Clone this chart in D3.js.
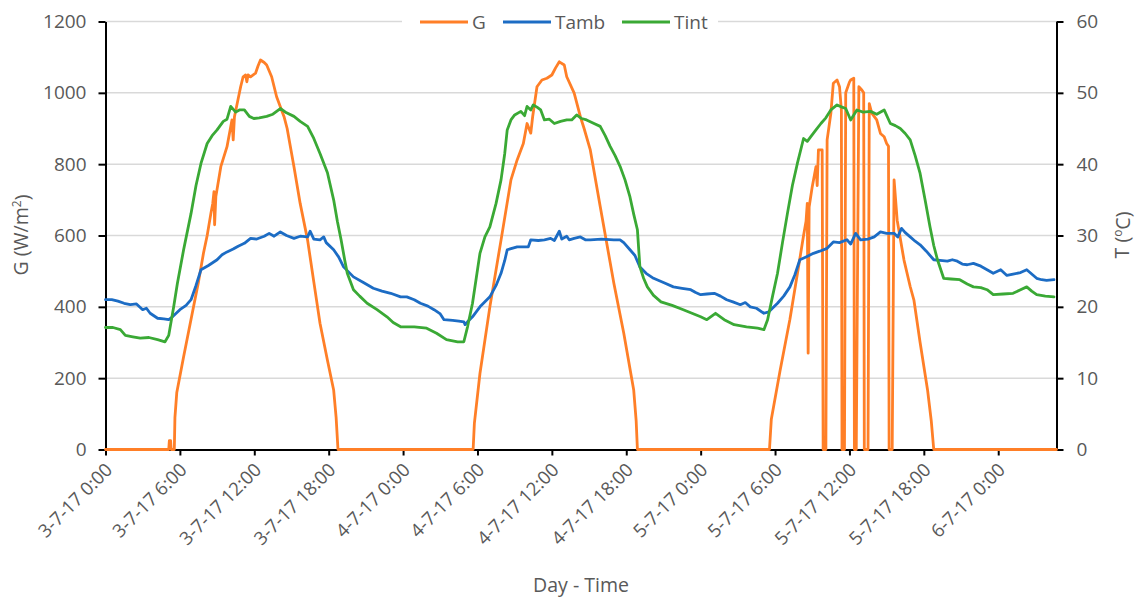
<!DOCTYPE html>
<html>
<head>
<meta charset="utf-8">
<script src="https://cdn.jsdelivr.net/npm/d3@7"></script>
<style>
  html, body { margin: 0; padding: 0; background: #fff; }
  svg { display: block; font-family: "Open Sans", "Liberation Sans", sans-serif; }
</style>
</head>
<body>
<svg id="chart" width="1137" height="601"></svg>
<script>
// Measurement start: 3 July 2017, 00:00. Time is given as hours since start.
const startDate = new Date(2017, 6, 3, 0, 0);
const endHours = 76.7;

// Global irradiance G (W/m²)
const gHours = [
  0, 5.0, 5.1, 5.15, 5.25, 5.3, 5.55, 5.6, 5.75, 6.3, 7.1, 7.5, 7.9, 8.2, 8.5, 8.65, 8.75, 8.8, 8.9,
  9.3, 9.8, 10.2, 10.3, 10.4, 10.9, 11.1, 11.3, 11.4, 11.5, 11.7, 12.1, 12.3, 12.5, 12.8, 13.0,
  13.4, 13.8, 14.4, 14.65, 15.2, 15.7, 16.3, 16.8, 17.3, 17.9, 18.4, 18.6, 18.75,
  29.65, 29.75, 30.2, 31.0, 31.9, 32.7, 33.2, 33.7, 34.0, 34.3, 34.45, 34.8, 35.2, 35.6, 36.0, 36.3,
  36.6, 37.0, 37.2, 37.8, 38.3, 38.6, 39.1, 39.9, 41.0, 41.8, 42.6, 42.8, 42.9,
  53.55, 53.7, 54.4, 55.2, 56.0, 56.3, 56.5, 56.6, 56.67, 56.75, 57.0, 57.3, 57.4, 57.5, 57.8,
  57.88, 58.1, 58.2, 58.5, 58.7, 59.0, 59.2, 59.35, 59.4, 59.6, 59.7, 60.0, 60.1, 60.35, 60.4,
  60.55, 60.76, 61.0, 61.15, 61.2, 61.5, 61.6, 61.8, 62.2, 62.5, 62.8, 63.0, 63.15, 63.2, 63.45,
  63.6, 63.85, 64.4, 64.9, 65.2, 65.7, 66.3, 66.6, 66.8, 76.7
];
const gValues = [
  0, 0, 0, 25, 25, 0, 0, 90, 160, 260, 400, 470, 550, 600, 662, 690, 723, 630, 709,
  793, 849, 924, 868, 933, 1017, 1045, 1050, 1031, 1050, 1045, 1055, 1075, 1092, 1085, 1078,
  1045, 989, 933, 900, 793, 690, 587, 470, 354, 250, 167, 90, 0,
  0, 73, 213, 400, 587, 756, 812, 858, 914, 887, 933, 1017, 1036, 1041, 1050, 1070,
  1087, 1078, 1045, 999, 933, 900, 840, 681, 466, 326, 167, 80, 0,
  0, 85, 220, 365, 535, 600, 640, 690, 270, 680, 737, 793, 740, 840, 840,
  0, 0, 868, 942, 1027, 1036, 1017, 952, 0, 0, 1000, 1030, 1036, 1041, 0,
  0, 1017, 1008, 1000, 0, 0, 970, 943, 924, 886, 877, 858, 850, 0, 0,
  756, 643, 531, 457, 419, 300, 167, 80, 0, 0
];

// Ambient temperature Tamb (°C)
const tambHours = [
  0.0, 0.5, 1.0, 1.5, 2.0, 2.5, 3.0, 3.3, 3.6, 4.2, 4.7, 5.1, 5.4, 6.0, 6.5, 6.9, 7.3, 7.7, 8.3, 9.0,
  9.4, 9.8, 10.3, 10.7, 11.2, 11.7, 12.2, 12.8, 13.2, 13.6, 14.1, 14.6, 15.2, 15.7, 16.3, 16.5, 16.8,
  17.3, 17.6, 17.8, 18.4, 18.8, 19.2, 19.6, 20.0, 20.8, 21.6, 22.3, 23.0, 23.8,
  24.3, 24.9, 25.4, 26.0, 26.5, 27.0, 27.3, 28.0, 28.5, 28.9, 29.0, 29.2, 29.6, 30.2, 30.6, 31.0,
  31.5, 31.9, 32.2, 32.4, 33.2, 34.1, 34.3, 34.9, 35.4, 35.9, 36.2, 36.6, 36.8, 37.2, 37.4, 37.8,
  38.3, 38.7, 39.1, 40.0, 41.0, 41.5, 41.8, 42.3, 42.7, 43.1, 43.6, 44.2, 45.0, 45.8, 46.5, 47.2,
  47.6, 48.0,
  48.5, 49.1, 49.6, 50.1, 50.6, 51.2, 51.6, 52.0, 52.5, 53.1, 53.5, 54.2, 54.7, 55.2, 55.6, 56.0,
  56.5, 57.1, 57.6, 58.2, 58.7, 59.2, 59.8, 60.1, 60.5, 60.9, 61.5, 62.0, 62.5, 63.0, 63.6, 63.9,
  64.2, 64.5, 64.9, 65.3, 65.7, 66.2, 66.8, 67.3, 67.9, 68.3, 68.7, 69.1, 69.5, 70.0, 70.6, 71.1,
  71.6, 72.2, 72.7, 73.2, 73.8, 74.3, 74.7, 75.1, 75.5, 75.9, 76.5
];
const tambValues = [
  21.0, 21.0, 20.8, 20.5, 20.3, 20.4, 19.6, 19.8, 19.1, 18.4, 18.3, 18.2, 18.6, 19.6, 20.2, 21.0, 23.0, 25.2, 25.8, 26.6,
  27.3, 27.7, 28.1, 28.5, 28.9, 29.6, 29.5, 29.9, 30.3, 29.9, 30.5, 30.0, 29.6, 29.9, 29.8, 30.6, 29.5,
  29.4, 29.8, 29.0, 28.0, 27.0, 25.6, 24.9, 24.2, 23.4, 22.6, 22.2, 21.9, 21.4,
  21.4, 21.0, 20.5, 20.1, 19.6, 19.0, 18.2, 18.1, 18.0, 17.9, 17.5, 17.9, 18.6, 20.0, 20.7, 21.4,
  23.0, 24.7, 26.5, 28.0, 28.4, 28.4, 29.4, 29.3, 29.4, 29.6, 29.3, 30.6, 29.5, 29.9, 29.4, 29.6,
  29.8, 29.4, 29.4, 29.5, 29.4, 29.4, 29.0, 28.0, 27.2, 25.6, 24.7, 24.0, 23.4, 22.8, 22.6, 22.4,
  22.0, 21.7,
  21.8, 21.9, 21.5, 21.0, 20.7, 20.3, 20.6, 20.0, 19.8, 19.1, 19.3, 20.5, 21.5, 22.8, 24.5, 26.6,
  27.0, 27.5, 27.8, 28.2, 29.1, 29.0, 29.4, 28.8, 30.3, 29.4, 29.5, 29.8, 30.5, 30.3, 30.3, 29.8,
  31.0, 30.4, 29.8, 29.2, 28.7, 27.8, 26.6, 26.5, 26.4, 26.6, 26.4, 26.0, 25.9, 26.1, 25.7, 25.2,
  24.7, 25.2, 24.4, 24.6, 24.8, 25.2, 24.6, 24.0, 23.8, 23.7, 23.8
];

// Internal temperature Tint (°C)
const tintHours = [
  0.0, 0.6, 1.2, 1.6, 2.2, 2.8, 3.5, 4.2, 4.8, 5.1, 5.5, 5.8, 6.3, 6.9, 7.3, 7.7, 8.2, 8.6, 9.0, 9.5,
  9.8, 10.1, 10.5, 10.8, 11.2, 11.6, 11.96, 12.4, 13.0, 13.5, 14.1, 14.6, 15.2, 15.7, 16.3, 16.8, 17.3,
  17.9, 18.4, 18.7, 19.0, 19.3, 19.5, 20.0, 20.5, 21.1, 21.9, 22.7, 23.2, 23.8,
  24.9, 25.9, 26.7, 27.5, 28.4, 28.9, 29.2, 29.6, 29.9, 30.2, 30.6, 31.0, 31.5, 31.9, 32.2, 32.4,
  32.7, 33.0, 33.5, 33.8, 34.0, 34.3, 34.5, 34.8, 35.1, 35.4, 35.8, 36.2, 36.7, 37.2, 37.6, 38.0,
  38.4, 38.8, 39.4, 39.9, 40.3, 40.7, 41.1, 41.5, 41.9, 42.3, 42.6, 42.9, 43.1, 43.4, 43.7, 44.2,
  44.8, 45.7, 46.6, 47.3, 48.0,
  48.5, 49.2, 49.9, 50.7, 51.7, 52.6, 53.1, 53.4, 53.8, 54.2, 54.6, 55.0, 55.4, 55.8, 56.3, 56.6,
  56.9, 57.3, 57.7, 58.1, 58.5, 59.0, 59.4, 59.7, 60.1, 60.6, 61.1, 61.7, 62.2, 62.8, 63.3, 63.7,
  64.1, 64.5, 64.9, 65.3, 65.7, 66.1, 66.5, 66.8, 67.1, 67.6, 68.2, 68.9, 69.5, 70.0, 70.6, 71.1,
  71.6, 72.4, 73.2, 73.8, 74.3, 74.7, 75.1, 75.8, 76.5
];
const tintValues = [
  17.1, 17.1, 16.8, 16.0, 15.8, 15.6, 15.7, 15.4, 15.1, 16.0, 20.0, 23.3, 28.0, 33.1, 37.0, 40.1, 42.9, 44.0, 44.8, 46.0,
  46.3, 48.1, 47.3, 47.6, 47.6, 46.7, 46.4, 46.5, 46.7, 47.0, 47.8, 47.2, 46.7, 46.0, 45.3, 43.6, 41.5,
  38.8, 35.0, 32.0, 29.4, 26.5, 24.7, 22.4, 21.5, 20.5, 19.6, 18.6, 17.8, 17.2,
  17.2, 17.0, 16.3, 15.4, 15.1, 15.1, 17.2, 20.5, 24.0, 27.5, 29.8, 31.2, 34.5, 37.8, 41.5, 44.8,
  46.2, 46.9, 47.4, 46.8, 48.1, 47.6, 48.3, 48.0, 47.6, 46.2, 46.3, 45.7, 46.0, 46.2, 46.2, 46.9,
  46.4, 46.2, 45.7, 45.3, 44.0, 42.5, 41.2, 39.7, 37.8, 35.4, 33.0, 30.8, 25.6, 24.0, 22.8, 21.6,
  20.7, 20.2, 19.6, 19.1, 18.6,
  18.2, 19.1, 18.2, 17.5, 17.2, 17.0, 16.8, 18.2, 21.5, 24.7, 29.0, 33.1, 37.0, 40.1, 43.6, 43.2,
  43.9, 44.8, 45.7, 46.5, 47.6, 48.3, 48.0, 47.8, 46.2, 47.6, 47.3, 47.4, 47.0, 47.6, 45.7, 45.4,
  45.0, 44.3, 43.4, 41.2, 38.7, 35.0, 31.2, 28.6, 26.6, 24.0, 23.9, 23.8, 23.2, 22.8, 22.7, 22.4,
  21.7, 21.8, 21.9, 22.4, 22.8, 22.2, 21.7, 21.5, 21.4
];

const gTicks = [0, 200, 400, 600, 800, 1000, 1200];
const tTicks = [0, 10, 20, 30, 40, 50, 60];
const seriesNames = ["G", "Tamb", "Tint"];
const seriesColors = ["#ff7f27", "#1c6cc4", "#3aa935"];

const svg = d3.select("#chart");
const plot = { left: 105.5, right: 1056.5, top: 21.5, bottom: 449.5 };
const labelColor = "#595959";

const hourToDate = h => new Date(startDate.getTime() + h * 3600 * 1000);

const x = d3.scaleTime()
  .domain([startDate, hourToDate(endHours)])
  .range([plot.left, plot.right]);
const yG = d3.scaleLinear().domain([0, 1200]).range([plot.bottom, plot.top]);
const yT = d3.scaleLinear().domain([0, 60]).range([plot.bottom, plot.top]);

// Horizontal gridlines
svg.append("g")
  .selectAll("line")
  .data(gTicks.filter(d => d > 0))
  .join("line")
  .attr("x1", plot.left).attr("x2", plot.right)
  .attr("y1", d => yG(d)).attr("y2", d => yG(d))
  .attr("stroke", "#d9d9d9").attr("stroke-width", 1.5);

// Axes
const fmt = d3.timeFormat("%-d-%-m-%y %-H:%M");
const xAxis = d3.axisBottom(x)
  .ticks(d3.timeHour.every(6))
  .tickSize(6).tickSizeOuter(0)
  .tickFormat(fmt);
const gx = svg.append("g").attr("transform", `translate(0,${plot.bottom})`).call(xAxis);
gx.select(".domain").attr("stroke", "#000").attr("stroke-width", 2);
gx.selectAll(".tick line").attr("stroke", "#000").attr("stroke-width", 2);
gx.selectAll(".tick text")
  .attr("fill", labelColor)
  .attr("font-size", 18.5)
  .attr("text-anchor", "end")
  .attr("y", 0).attr("dy", "0.35em")
  .attr("transform", "translate(3,17) rotate(-45)");

const yAxisL = d3.axisLeft(yG).tickValues(gTicks).tickFormat(d3.format("d"))
  .tickSize(7).tickSizeOuter(0).tickPadding(12);
const gl = svg.append("g").attr("transform", `translate(${plot.left},0)`).call(yAxisL);
gl.select(".domain").attr("stroke", "#000").attr("stroke-width", 2);
gl.selectAll(".tick line").attr("stroke", "#000").attr("stroke-width", 2);
gl.selectAll(".tick text").attr("fill", labelColor).attr("font-size", 19);

const yAxisR = d3.axisRight(yT).tickValues(tTicks).tickFormat(d3.format("d"))
  .tickSize(7).tickSizeOuter(0).tickPadding(13);
const gr = svg.append("g").attr("transform", `translate(${plot.right},0)`).call(yAxisR);
gr.select(".domain").attr("stroke", "#000").attr("stroke-width", 2);
gr.selectAll(".tick line").attr("stroke", "#000").attr("stroke-width", 2);
gr.selectAll(".tick text").attr("fill", labelColor).attr("font-size", 19);

svg.selectAll("g").attr("font-family", null);

// Series lines
function drawSeries(hours, values, scale, color) {
  const pts = hours.map((h, i) => [h, values[i]]);
  const line = d3.line()
    .x(d => x(hourToDate(d[0])))
    .y(d => scale(d[1]))
    .curve(d3.curveLinear);
  svg.append("path")
    .datum(pts)
    .attr("d", line)
    .attr("fill", "none")
    .attr("stroke", color)
    .attr("stroke-width", 2.8)
    .attr("stroke-linejoin", "round")
    .attr("stroke-linecap", "round");
}
drawSeries(gHours, gValues, yG, seriesColors[0]);
drawSeries(tambHours, tambValues, yT, seriesColors[1]);
drawSeries(tintHours, tintValues, yT, seriesColors[2]);

// Legend on top of the upper gridline
const legend = svg.append("g");
legend.append("rect")
  .attr("x", 402).attr("y", 11).attr("width", 316).attr("height", 22)
  .attr("fill", "#fff");
const legendItems = [
  { name: seriesNames[0], color: seriesColors[0], x0: 420 },
  { name: seriesNames[1], color: seriesColors[1], x0: 503 },
  { name: seriesNames[2], color: seriesColors[2], x0: 622 }
];
legendItems.forEach(it => {
  legend.append("line")
    .attr("x1", it.x0).attr("x2", it.x0 + 48)
    .attr("y1", 22).attr("y2", 22)
    .attr("stroke", it.color).attr("stroke-width", 2.8);
  legend.append("text")
    .attr("x", it.x0 + 52).attr("y", 22).attr("dy", "0.35em")
    .attr("fill", labelColor).attr("font-size", 19)
    .text(it.name);
});

// Axis titles
svg.append("text")
  .attr("x", 581).attr("y", 592)
  .attr("text-anchor", "middle")
  .attr("fill", labelColor).attr("font-size", 19.5)
  .text("Day - Time");

const gTitle = svg.append("text")
  .attr("transform", "translate(28,235) rotate(-90)")
  .attr("text-anchor", "middle")
  .attr("fill", labelColor).attr("font-size", 19.5);
gTitle.append("tspan").text("G (W/m");
gTitle.append("tspan").attr("font-size", 12).attr("dy", "-0.6em").text("2");
gTitle.append("tspan").attr("dy", "0.4em").text(")");

const tTitle = svg.append("text")
  .attr("transform", "translate(1129,235) rotate(-90)")
  .attr("text-anchor", "middle")
  .attr("fill", labelColor).attr("font-size", 19.5);
tTitle.append("tspan").text("T (");
tTitle.append("tspan").attr("font-size", 12).attr("dy", "-0.6em").text("o");
tTitle.append("tspan").attr("dy", "0.4em").text("C)");
</script>
</body>
</html>
